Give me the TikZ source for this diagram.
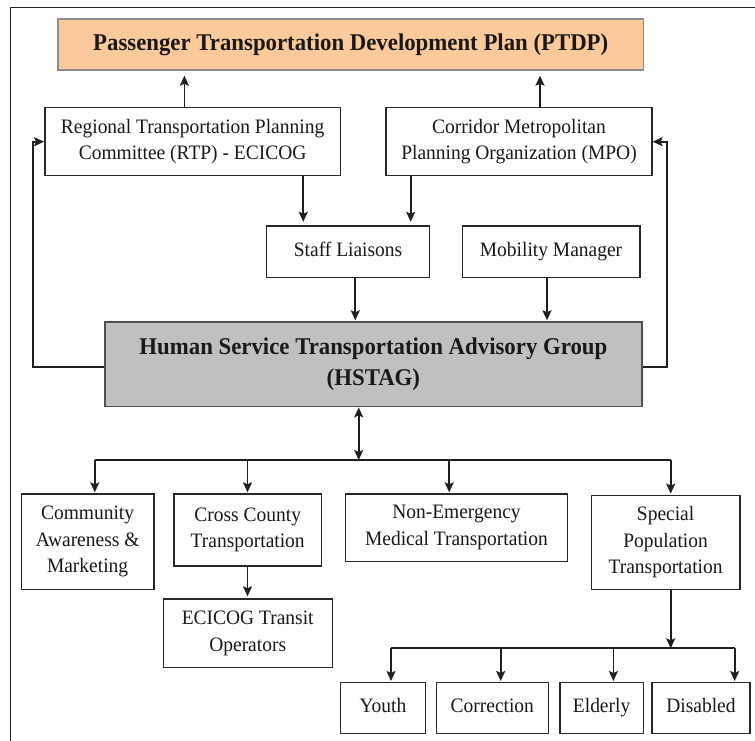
\documentclass[tikz,border=0pt]{standalone}
\usepackage{fontspec}
\setmainfont{Liberation Serif}[FakeStretch=0.95]
\usetikzlibrary{arrows.meta}
\definecolor{ptdpfill}{RGB}{251,201,154}
\definecolor{ptdpdraw}{RGB}{140,140,140}
\definecolor{hstagfill}{RGB}{192,192,192}
\definecolor{hstagdraw}{RGB}{80,80,80}
\definecolor{boxdraw}{RGB}{40,40,40}
\begin{document}
\begin{tikzpicture}[x=1pt,y=-1pt,
  box/.style={draw=boxdraw, line width=1.4pt, fill=white, align=center, inner sep=0pt,
    text=black!90, font=\fontsize{20.5}{26.7}\selectfont},
  single/.style={box, text height=13.5pt, text depth=4.5pt},
  titlebox/.style={box, font=\bfseries\fontsize{24}{31.7}\selectfont},
  line/.style={line width=1.8pt, draw=black!88},
  conn/.style={line, -{Stealth[length=10pt,width=9pt,inset=2pt]}},
  dconn/.style={line, {Stealth[length=10pt,width=9pt,inset=2pt]}-{Stealth[length=10pt,width=9pt,inset=2pt]}}]
\useasboundingbox (0,0) rectangle (755,741);
% outer frame
\draw[line width=1pt, black!85] (755,7.3) -- (10.6,7.3) -- (10.6,741);

% boxes
\node[titlebox, fill=ptdpfill, draw=ptdpdraw, minimum width=585.9pt, minimum height=51pt, text height=16.5pt, text depth=5pt] (ptdp) at (350.75,44.5) {Passenger Transportation Development Plan (PTDP)};
\node[box, minimum width=295.6pt, minimum height=68pt] (rtp) at (192.6,141.7) {Regional Transportation Planning\\Committee (RTP) - ECICOG};
\node[box, minimum width=265.8pt, minimum height=68pt] (mpo) at (519,141.7) {Corridor Metropolitan\\Planning Organization (MPO)};
\node[single, minimum width=162.8pt, minimum height=51.3pt] (staff) at (348.1,251.65) {Staff Liaisons};
\node[single, minimum width=177.7pt, minimum height=51.3pt] (mob) at (551.05,251.65) {Mobility Manager};
\node[titlebox, fill=hstagfill, draw=hstagdraw, minimum width=536.8pt, minimum height=84.7pt] (hstag) at (373.4,364.35) {Human Service Transportation Advisory Group\\(HSTAG)};
\node[box, minimum width=132.8pt, minimum height=95.3pt] (comm) at (87.6,541.65) {Community\\Awareness \&\\Marketing};
\node[box, minimum width=147.8pt, minimum height=72pt] (cross) at (247.7,530) {Cross County\\Transportation};
\node[box, minimum width=221.5pt, minimum height=67.3pt] (nemt) at (456.45,527.65) {Non-Emergency\\Medical Transportation};
\node[box, minimum width=148.8pt, minimum height=94pt] (spec) at (665.6,542.3) {Special\\Population\\Transportation};
\node[box, minimum width=169pt, minimum height=68.3pt] (ecicog) at (247.7,633.15) {ECICOG Transit\\Operators};
\node[single, minimum width=85.2pt, minimum height=50.6pt] (youth) at (383,708) {Youth};
\node[single, minimum width=112.2pt, minimum height=50.6pt] (corr) at (492.3,708) {Correction};
\node[single, minimum width=83.2pt, minimum height=50.6pt] (eld) at (601.6,708) {Elderly};
\node[single, minimum width=98.1pt, minimum height=50.6pt] (dis) at (700.95,708) {Disabled};

% helper coordinates (x positions of connectors)
\coordinate (a1) at (184.4,0);
\coordinate (a2) at (540,0);
\coordinate (s1) at (303.3,0);
\coordinate (s2) at (410.7,0);
\coordinate (h1) at (355.3,0);
\coordinate (h2) at (547,0);
\coordinate (fl) at (32.7,366.7);
\coordinate (fr) at (666.8,366.7);
\coordinate (dv) at (358.7,0);
\coordinate (busL) at (94.8,460);
\coordinate (busC) at (247.5,460);
\coordinate (busN) at (449.2,460);
\coordinate (busR) at (670.7,460);
\coordinate (sbL) at (391,648.3);
\coordinate (sbC) at (500.7,648.3);
\coordinate (sbE) at (613.4,648.3);
\coordinate (sbR) at (734.7,648.3);
\coordinate (sbM) at (670.7,648.3);

% upper connectors
\draw[conn, shorten >=5pt] (rtp.north -| a1) -- (ptdp.south -| a1);
\draw[conn, shorten >=5pt] (mpo.north -| a2) -- (ptdp.south -| a2);
\draw[conn, shorten >=3.5pt] (rtp.south -| s1) -- (staff.north -| s1);
\draw[conn, shorten >=3.5pt] (mpo.south -| s2) -- (staff.north -| s2);
\draw[conn, shorten >=1pt] (staff.south -| h1) -- (hstag.north -| h1);
\draw[conn, shorten >=1pt] (mob.south -| h2) -- (hstag.north -| h2);

% feedback loops
\draw[conn] (hstag.west |- fl) -- (fl) |- (rtp.west);
\draw[conn] (hstag.east |- fr) -- (fr) |- (mpo.east);

% lower distribution
\draw[dconn] (hstag.south -| dv) -- (busL -| dv);
\draw[line] (busL) -- (busR);
\draw[conn, shorten >=1pt] (busL) -- (comm.north -| busL);
\draw[conn, shorten >=1pt] (busC) -- (cross.north -| busC);
\draw[conn, shorten >=1pt] (busN) -- (nemt.north -| busN);
\draw[conn, shorten >=1pt] (busR) -- (spec.north -| busR);
\draw[conn, shorten >=2pt] (cross.south -| busC) -- (ecicog.north -| busC);

% special population branches
\draw[conn] (spec.south -| sbM) -- (sbM);
\draw[line] (sbL) -- (sbR);
\draw[conn, shorten >=1pt] (sbL) -- (youth.north -| sbL);
\draw[conn, shorten >=1pt] (sbC) -- (corr.north -| sbC);
\draw[conn, shorten >=1pt] (sbE) -- (eld.north -| sbE);
\draw[conn, shorten >=1pt] (sbR) -- (dis.north -| sbR);
\end{tikzpicture}
\end{document}
